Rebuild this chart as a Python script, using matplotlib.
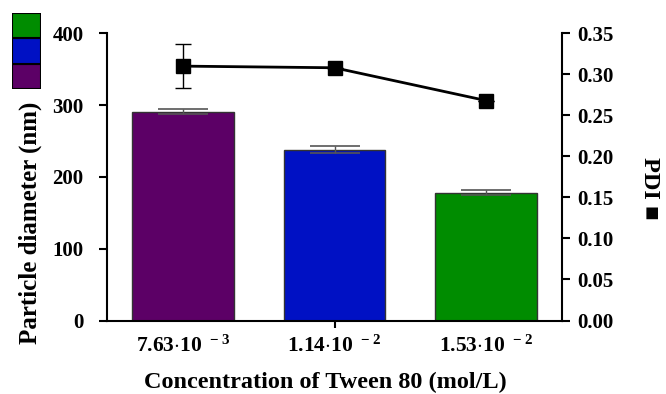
import matplotlib
matplotlib.use("Agg")
import matplotlib.pyplot as plt
import numpy as np

plt.rcParams['font.family'] = ['Liberation Serif', 'DejaVu Sans']
plt.rcParams['font.weight'] = 'bold'
plt.rcParams['mathtext.fontset'] = 'custom'
plt.rcParams['mathtext.rm'] = 'Liberation Serif:bold'
plt.rcParams['mathtext.bf'] = 'Liberation Serif:bold'
plt.rcParams['mathtext.default'] = 'bf'

categories = [r'7.63$\cdot$10$^{\ -3}$', r'1.14$\cdot$10$^{\ -2}$', r'1.53$\cdot$10$^{\ -2}$']
diameter = [291, 238, 178]
diameter_err = [4, 5, 3.5]
pdi = [0.310, 0.308, 0.268]
pdi_err = [0.027, 0.0, 0.0]
bar_colors = ['#5c0066', '#0011c4', '#008c00']

fig = plt.figure(figsize=(6.66, 3.94), dpi=100)
ax = fig.add_axes([107/666, 1-320.5/394, (562-107)/666, (320.5-33.3)/394])
x = np.arange(len(categories))
ax.bar(x, diameter, width=0.67, color=bar_colors, edgecolor='#333333', linewidth=1, zorder=2)
ax.errorbar(x, diameter, yerr=diameter_err, fmt='none', ecolor='#555555', elinewidth=1,
            capsize=18, capthick=1.2, zorder=3)
ax.set_xlim(-0.5, 2.5)
ax.set_ylim(0, 400)
ax.set_yticks([0, 100, 200, 300, 400])
ax.set_xticks(x)
ax.set_xticklabels(categories, fontsize=15.5)
ax.tick_params(axis='y', labelsize=15, width=1.5, length=6, direction='out', pad=11)
ax.tick_params(axis='x', width=1.5, length=5, pad=6)
for i, t in enumerate(ax.xaxis.get_major_ticks()):
    if i != 1:
        t.tick1line.set_visible(False)
for s in ['left', 'bottom', 'right']:
    ax.spines[s].set_linewidth(1.5)
ax.spines['top'].set_visible(False)
ax.spines['right'].set_visible(False)
ax.set_xlabel('Concentration of Tween 80 (mol/L)', fontsize=17.5, fontweight='bold')
ax.xaxis.set_label_coords(0.48, -0.18)
ax.set_ylabel('Particle diameter (nm)', fontsize=18, fontweight='bold')
ax.yaxis.set_label_coords(-0.143, 0.34)

ax2 = ax.twinx()
ax2.errorbar(x, pdi, yerr=pdi_err, fmt='-s', color='black', lw=2, markersize=10,
             ecolor='black', elinewidth=1, capsize=6, capthick=1, zorder=4)
ax2.set_ylim(0, 0.35)
ax2.set_yticks(np.arange(0, 0.351, 0.05))
ax2.set_yticklabels([f'{v:.2f}' for v in np.arange(0, 0.351, 0.05)])
ax2.tick_params(axis='y', labelsize=15, width=1.5, length=6, direction='out', pad=5)
for s in ['top', 'left', 'bottom']:
    ax2.spines[s].set_visible(False)
ax2.spines['right'].set_linewidth(1.5)
ax2.set_ylabel('PDI ■', fontsize=17.5, fontweight='bold', rotation=270,
               family=['Liberation Serif', 'DejaVu Sans'])
ax2.yaxis.set_label_coords(1.215, 0.46)

# legend swatches
lax = fig.add_axes([12/666, 1-89/394, 29/666, 76/394])
lax.bar([0, 0, 0], [1, 1, 1], bottom=[0, 1, 2], width=1,
        color=[bar_colors[0], bar_colors[1], bar_colors[2]], edgecolor='black', linewidth=1.5)
lax.set_xlim(-0.5, 0.5)
lax.set_ylim(0, 3)
lax.axis('off')

fig.savefig('out.png', dpi=100)
